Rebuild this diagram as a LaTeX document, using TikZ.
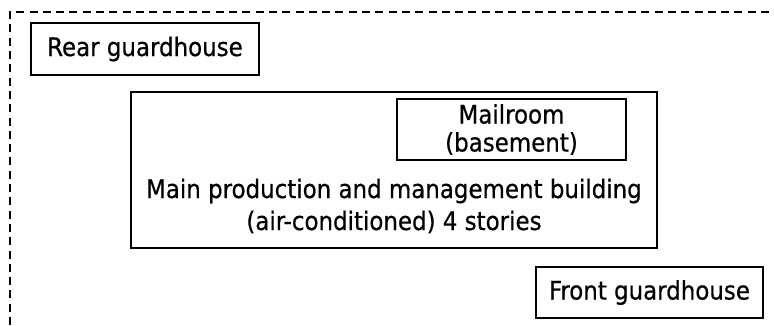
\documentclass[tikz,border=0pt]{standalone}
\usepackage{fontspec}
\setmainfont[FakeBold=0.6]{DejaVu Sans Condensed}
\begin{document}
\begin{tikzpicture}[x=1pt,y=-1pt,
  box/.style={draw,line width=2.4pt,rectangle,inner sep=0pt},
  txt/.style={align=center,font=\fontsize{25.5}{32}\selectfont},
  tighttxt/.style={align=center,font=\fontsize{25.5}{28}\selectfont}]
\useasboundingbox (0,0) rectangle (774,325);
\draw[line width=2.6pt,dash pattern=on 8pt off 5.3pt] (10,325) -- (10,12) -- (774,12);
\node[box,minimum width=228pt,minimum height=52pt,txt] (rear) at (145,49) {Rear guardhouse};
\node[box,minimum width=526pt,minimum height=156pt] (main) at (394,170) {};
\node[txt] (maintxt) at (394,206) {Main production and management building\\(air-conditioned) 4 stories};
\node[box,minimum width=229pt,minimum height=61pt,tighttxt] (mail) at (511.5,129.5) {Mailroom\\(basement)};
\node[box,minimum width=227pt,minimum height=51pt,txt] (front) at (649.5,292.5) {Front guardhouse};
\end{tikzpicture}
\end{document}
